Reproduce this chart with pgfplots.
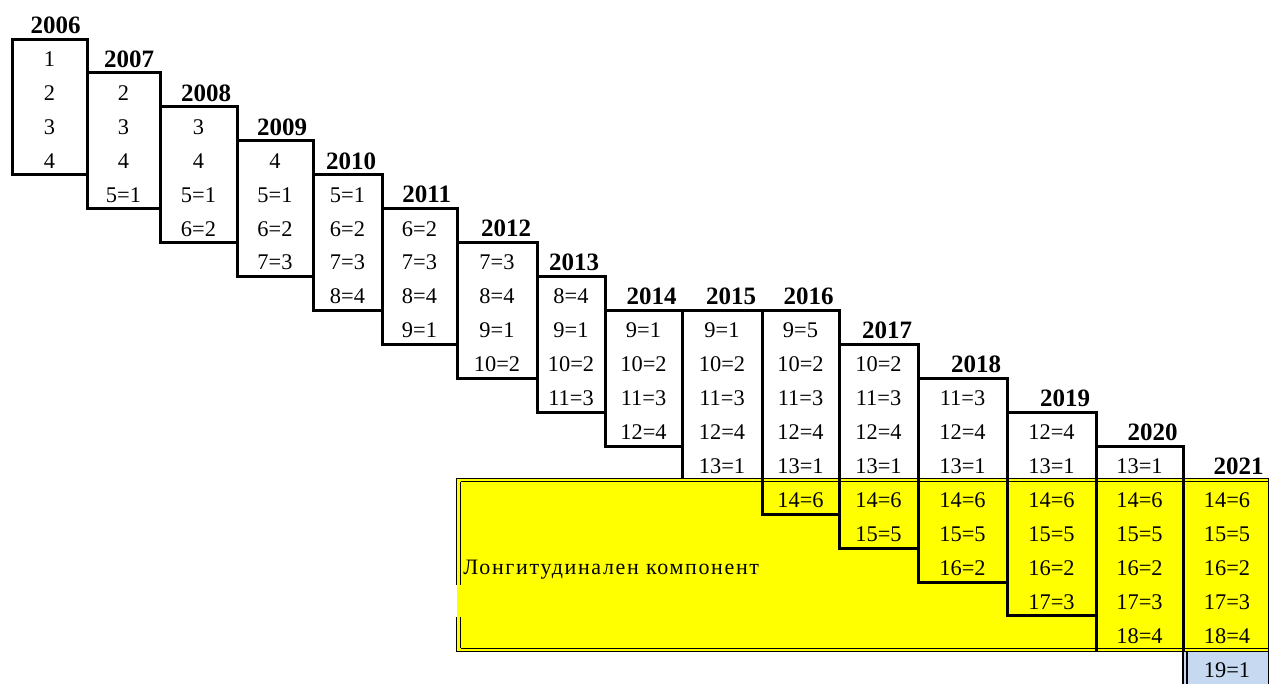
\documentclass[border=0pt]{standalone}
\usepackage{fontspec}
\setmainfont{Liberation Serif}
\newfontfamily\widefont[LetterSpace=7.5]{Liberation Serif}
\usepackage{pgfplots}
\pgfplotsset{compat=1.18}
\definecolor{yel}{HTML}{FFFF00}
\definecolor{lblue}{HTML}{C6D9F1}
\pgfplotstableread{
x y t
49.5 0.59 1
49.5 1.59 2
49.5 2.59 3
49.5 3.59 4
123.5 1.59 2
123.5 2.59 3
123.5 3.59 4
123.5 4.59 5=1
198.5 2.59 3
198.5 3.59 4
198.5 4.59 5=1
198.5 5.59 6=2
275 3.59 4
275 4.59 5=1
275 5.59 6=2
275 6.59 7=3
347.5 4.59 5=1
347.5 5.59 6=2
347.5 6.59 7=3
347.5 7.59 8=4
419.5 5.59 6=2
419.5 6.59 7=3
419.5 7.59 8=4
419.5 8.59 9=1
497 6.59 7=3
497 7.59 8=4
497 8.59 9=1
497 9.59 10=2
571 7.59 8=4
571 8.59 9=1
571 9.59 10=2
571 10.59 11=3
643.5 8.59 9=1
643.5 9.59 10=2
643.5 10.59 11=3
643.5 11.59 12=4
722 8.59 9=1
722 9.59 10=2
722 10.59 11=3
722 11.59 12=4
722 12.59 13=1
800.5 8.59 9=5
800.5 9.59 10=2
800.5 10.59 11=3
800.5 11.59 12=4
800.5 12.59 13=1
800.5 13.59 14=6
878.5 9.59 10=2
878.5 10.59 11=3
878.5 11.59 12=4
878.5 12.59 13=1
878.5 13.59 14=6
878.5 14.59 15=5
962.5 10.59 11=3
962.5 11.59 12=4
962.5 12.59 13=1
962.5 13.59 14=6
962.5 14.59 15=5
962.5 15.59 16=2
1051.5 11.59 12=4
1051.5 12.59 13=1
1051.5 13.59 14=6
1051.5 14.59 15=5
1051.5 15.59 16=2
1051.5 16.59 17=3
1139.5 12.59 13=1
1139.5 13.59 14=6
1139.5 14.59 15=5
1139.5 15.59 16=2
1139.5 16.59 17=3
1139.5 17.59 18=4
1227 13.59 14=6
1227 14.59 15=5
1227 15.59 16=2
1227 16.59 17=3
1227 17.59 18=4
1227 18.59 19=1
}\cells
\pgfplotstableread{
x y t
81 -0.41 2006
154.5 0.59 2007
231.5 1.59 2008
307.5 2.59 2009
376.5 3.59 2010
451.5 4.59 2011
531.5 5.59 2012
599.5 6.59 2013
677 7.59 2014
756.5 7.59 2015
834 7.59 2016
912.5 8.59 2017
1001.5 9.59 2018
1090.5 10.59 2019
1178 11.59 2020
1264 12.59 2021
}\heads
\begin{document}
\begin{tikzpicture}
\begin{axis}[
  scale only axis, width=635.5pt, height=342pt,
  xmin=0, xmax=1271, ymin=-1.149, ymax=19.004, y dir=reverse,
  hide axis, clip=false,
  box/.style={black, line width=1.5pt, mark=none},
  thin/.style={black, line width=0.6pt, mark=none},
]
\addplot[draw=none, mark=none, forget plot] coordinates {(0,-1.149) (1271,19.004)};
% yellow area
\addplot[fill=yel, draw=none, mark=none] coordinates {(456.7,12.943) (1268.5,12.943) (1268.5,18.052) (456.7,18.052)} -- cycle;
% blue cell
\addplot[fill=lblue, draw=none, mark=none] coordinates {(1184,18.052) (1268.5,18.052) (1268.5,19.004) (1184,19.004)} -- cycle;
% double borders
\addplot[thin] coordinates {(456.7,12.943) (1268.5,12.943)};
\addplot[thin] coordinates {(460.7,13.044) (1268.5,13.044)};
\addplot[thin] coordinates {(456.7,18.052) (1268.5,18.052)};
\addplot[thin] coordinates {(460.7,17.952) (1268.5,17.952)};
\addplot[thin] coordinates {(456.7,12.943) (456.7,16.087)};
\addplot[thin] coordinates {(456.7,17.03) (456.7,18.052)};
\addplot[thin] coordinates {(460.7,13.044) (460.7,16.087)};
\addplot[thin] coordinates {(460.7,17.03) (460.7,17.952)};
\addplot[thin] coordinates {(1268.5,12.943) (1268.5,19.004)};
\addplot[black, line width=1pt, mark=none] coordinates {(1183,18.052) (1183,19.004)};
\addplot[thin] coordinates {(1187,18.052) (1187,19.004)};
% year boxes
\addplot[box] coordinates {(12,0) (87,0) (87,4) (12,4)} -- cycle;
\addplot[box] coordinates {(87,1) (160,1) (160,5) (87,5)} -- cycle;
\addplot[box] coordinates {(160,2) (237,2) (237,6) (160,6)} -- cycle;
\addplot[box] coordinates {(237,3) (313,3) (313,7) (237,7)} -- cycle;
\addplot[box] coordinates {(313,4) (382,4) (382,8) (313,8)} -- cycle;
\addplot[box] coordinates {(382,5) (457,5) (457,9) (382,9)} -- cycle;
\addplot[box] coordinates {(457,6) (537,6) (537,10) (457,10)} -- cycle;
\addplot[box] coordinates {(537,7) (605,7) (605,11) (537,11)} -- cycle;
\addplot[box] coordinates {(605,8) (682,8) (682,12) (605,12)} -- cycle;
\addplot[box] coordinates {(682,12.943) (682,8) (762,8) (762,12.943)};
\addplot[box] coordinates {(762,8) (839,8) (839,14) (762,14)} -- cycle;
\addplot[box] coordinates {(839,9) (918,9) (918,15) (839,15)} -- cycle;
\addplot[box] coordinates {(918,10) (1007,10) (1007,16) (918,16)} -- cycle;
\addplot[box] coordinates {(1007,11) (1096,11) (1096,17) (1007,17)} -- cycle;
\addplot[box] coordinates {(1096,18.052) (1096,12) (1183,12) (1183,18.052)};
% texts
\addplot[draw=none, mark=none, nodes near coords, point meta=explicit symbolic,
  nodes near coords style={anchor=center, text=black, inner sep=0pt, font=\fontsize{11.2}{13}\selectfont}]
  table[x=x, y=y, meta=t] {\cells};
\addplot[draw=none, mark=none, nodes near coords, point meta=explicit symbolic,
  nodes near coords style={anchor=east, text=black, inner sep=0pt, font=\fontsize{12.5}{14}\selectfont\bfseries}]
  table[x=x, y=y, meta=t] {\heads};
\addplot[draw=none, mark=none, nodes near coords, point meta=explicit symbolic,
  nodes near coords style={anchor=base west, text=black, inner sep=0pt, font=\widefont\fontsize{11}{13}\selectfont}]
  coordinates {(463,15.79) [Лонгитудинален компонент]};
\end{axis}
\end{tikzpicture}
\end{document}
